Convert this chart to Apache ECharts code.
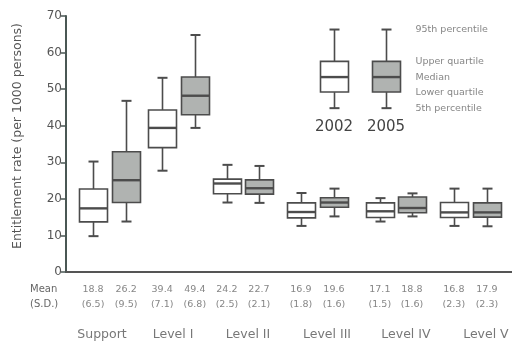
<!DOCTYPE html>
<html>
<head>
<meta charset="utf-8">
<script src="https://cdn.jsdelivr.net/npm/echarts@6/dist/echarts.min.js"></script>
<style>html,body{margin:0;padding:0;background:#fff}#c{width:512px;height:341px}</style>
</head>
<body>
<div id="c"></div>
<script>
// ---- data ----
const groups = ['Support', 'Level I', 'Level II', 'Level III', 'Level IV', 'Level V'];
const years = ['2002', '2005'];
// [5th pct, lower quartile, median, upper quartile, 95th pct]
const box2002 = [
  [9.8, 13.7, 17.4, 22.7, 30.2],
  [27.7, 34.0, 39.4, 44.3, 53.1],
  [19.0, 21.4, 24.2, 25.4, 29.3],
  [12.6, 14.8, 16.4, 18.9, 21.6],
  [13.8, 14.9, 16.6, 18.9, 20.2],
  [12.6, 14.9, 16.3, 19.0, 22.8]
];
const box2005 = [
  [13.8, 19.0, 25.1, 32.9, 46.8],
  [39.4, 43.0, 48.2, 53.3, 64.8],
  [18.9, 21.3, 22.9, 25.2, 29.0],
  [15.2, 17.7, 19.0, 20.3, 22.8],
  [15.2, 16.2, 17.5, 20.5, 21.5],
  [12.5, 15.0, 16.3, 18.9, 22.8]
];
const mean2002 = [18.8, 39.4, 24.2, 16.9, 17.1, 16.8];
const sd2002 = [6.5, 7.1, 2.5, 1.8, 1.5, 2.3];
const mean2005 = [26.2, 49.4, 22.7, 19.6, 18.8, 17.9];
const sd2005 = [9.5, 6.8, 2.1, 1.6, 1.6, 2.3];
const yTicks = [0, 10, 20, 30, 40, 50, 60, 70];
const legendSample = [44.8, 49.2, 53.3, 57.6, 66.3];
const legendLabels = ['5th percentile', 'Lower quartile', 'Median', 'Upper quartile', '95th percentile'];

// ---- layout (axis units along the hidden x scale) ----
const boxPos = [0.82, 1.82, 2.91, 3.9, 4.87, 5.84, 7.11, 8.11, 9.5, 10.47, 11.74, 12.74];
const groupPos = [1.09, 3.24, 5.51, 7.9, 10.29, 12.71];

const FONT = 'DejaVu Sans';
const WHITE = '#ffffff', GRAY = '#b0b3b1', EDGE = '#4c4c4c', AXIS = '#4a5754';
const BOX_HALF = 14, CAP_HALF = 5;

const boxData = [];
const meanData = [];
for (let i = 0; i < groups.length; i++) {
  boxData.push({ value: [boxPos[2 * i]].concat(box2002[i]), itemStyle: { color: WHITE } });
  boxData.push({ value: [boxPos[2 * i + 1]].concat(box2005[i]), itemStyle: { color: GRAY } });
  meanData.push({ value: [boxPos[2 * i], 0], txt: mean2002[i].toFixed(1) + '\n(' + sd2002[i].toFixed(1) + ')' });
  meanData.push({ value: [boxPos[2 * i + 1], 0], txt: mean2005[i].toFixed(1) + '\n(' + sd2005[i].toFixed(1) + ')' });
}
const groupData = groups.map((g, i) => ({ value: [groupPos[i], 0], txt: g }));
const legendData = legendLabels.map((t, i) => ({ value: [1, legendSample[i]], txt: t }));
const legendBoxData = years.map((y, i) => ({ value: [i].concat(legendSample), itemStyle: { color: i === 0 ? WHITE : GRAY } }));

function renderBox(params, api) {
  const x = api.value(0);
  const p = [1, 2, 3, 4, 5].map(k => api.coord([x, api.value(k)]));
  const cx = Math.round(p[0][0]) + 0.5;
  const fill = api.visual('color');
  const ln = (x1, y1, x2, y2, w) => ({
    type: 'line', shape: { x1, y1, x2, y2 },
    style: { stroke: EDGE, lineWidth: w || 1.6 }
  });
  return {
    type: 'group',
    children: [
      ln(cx, p[0][1], cx, p[1][1]),
      ln(cx, p[3][1], cx, p[4][1]),
      ln(cx - CAP_HALF, p[0][1], cx + CAP_HALF, p[0][1], 2),
      ln(cx - CAP_HALF, p[4][1], cx + CAP_HALF, p[4][1], 2),
      {
        type: 'rect',
        shape: { x: cx - BOX_HALF, y: p[3][1], width: BOX_HALF * 2, height: p[1][1] - p[3][1] },
        style: { fill: fill, stroke: EDGE, lineWidth: 1.6 }
      },
      ln(cx - BOX_HALF, p[2][1], cx + BOX_HALF, p[2][1], 2.4)
    ]
  };
}

const hiddenPt = { color: 'rgba(0,0,0,0)' };

const chart = echarts.init(document.getElementById('c'), null, { renderer: 'canvas' });
chart.setOption({
  animation: false,
  backgroundColor: '#fff',
  textStyle: { fontFamily: FONT },
  grid: [
    { left: 66, right: 0, top: 16, height: 256, containLabel: false },
    { left: 308, width: 104, top: 16, height: 102.4, containLabel: false }
  ],
  xAxis: [
    {
      type: 'value', gridIndex: 0, min: 0, max: 13.5,
      axisLine: { show: true, onZero: false, lineStyle: { color: '#555', width: 2 } },
      axisTick: { show: false }, axisLabel: { show: false }, splitLine: { show: false }
    },
    {
      type: 'category', gridIndex: 1, data: years,
      axisLine: { show: false }, axisTick: { show: false }, splitLine: { show: false },
      axisLabel: { show: true, margin: 1, fontSize: 15, color: '#444', fontFamily: FONT }
    }
  ],
  yAxis: [
    {
      type: 'value', gridIndex: 0, min: yTicks[0], max: yTicks[yTicks.length - 1], interval: 10,
      name: 'Entitlement rate (per 1000 persons)', nameLocation: 'middle', nameGap: 42,
      nameTextStyle: { fontSize: 12.5, color: '#555', fontFamily: FONT, padding: [0, 0, 0, 16] },
      axisLine: { show: true, lineStyle: { color: AXIS, width: 2 } },
      axisTick: { show: true, length: 5, lineStyle: { color: AXIS, width: 1.5 } },
      axisLabel: { fontSize: 12, color: '#555', margin: 4, fontFamily: FONT },
      splitLine: { show: false }
    },
    {
      type: 'value', gridIndex: 1, min: 42, max: 70, show: false
    }
  ],
  series: [
    {
      type: 'custom', xAxisIndex: 0, yAxisIndex: 0, silent: true,
      encode: { x: 0, y: [1, 2, 3, 4, 5] },
      renderItem: renderBox,
      data: boxData
    },
    {
      type: 'custom', xAxisIndex: 1, yAxisIndex: 1, silent: true,
      encode: { x: 0, y: [1, 2, 3, 4, 5] },
      renderItem: renderBox,
      data: legendBoxData
    },
    {
      type: 'scatter', xAxisIndex: 0, yAxisIndex: 0, clip: false,
      symbolSize: 1, itemStyle: hiddenPt, silent: true,
      data: meanData,
      label: {
        show: true, position: 'bottom', distance: 9.5,
        formatter: p => p.data.txt,
        fontSize: 9.5, lineHeight: 15, color: '#666', fontFamily: FONT
      }
    },
    {
      type: 'scatter', xAxisIndex: 0, yAxisIndex: 0, clip: false,
      symbolSize: 1, itemStyle: hiddenPt, silent: true,
      data: groupData,
      label: {
        show: true, position: 'bottom', distance: 55.5,
        formatter: p => p.data.txt,
        fontSize: 12.5, color: '#555', fontFamily: FONT
      }
    },
    {
      type: 'scatter', xAxisIndex: 1, yAxisIndex: 1, clip: false,
      symbolSize: 1, itemStyle: hiddenPt, silent: true,
      data: legendData,
      label: {
        show: true, position: 'right', distance: 29,
        formatter: p => p.data.txt,
        fontSize: 9.5, color: '#666', fontFamily: FONT
      }
    }
  ],
  graphic: [
    {
      type: 'text', left: 30, top: 282, silent: true,
      style: { text: 'Mean\n(S.D.)', fontSize: 10, lineHeight: 15, fill: '#666', fontFamily: FONT }
    }
  ]
});
</script>
</body>
</html>
